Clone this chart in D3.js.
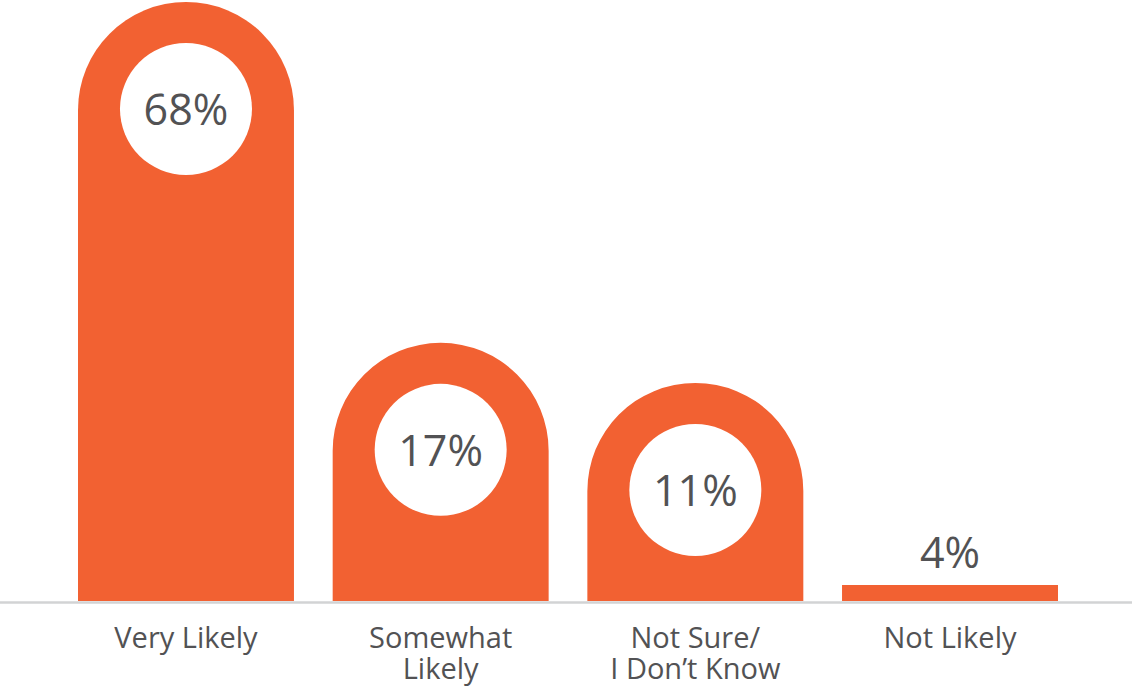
<!DOCTYPE html>
<html>
<head>
<meta charset="utf-8">
<script src="https://cdn.jsdelivr.net/npm/d3@7"></script>
<style>
  html, body { margin: 0; padding: 0; background: #fff; }
  svg { display: block; }
  text { font-family: "Open Sans", "Noto Sans", sans-serif; fill: #525254; }
</style>
</head>
<body>
<svg id="chart" width="1132" height="688"></svg>
<script>
// Survey answers and their shares (percent)
const categories = ["Very Likely", "Somewhat Likely", "Not Sure/ I Don’t Know", "Not Likely"];
const categoryLines = [["Very Likely"], ["Somewhat", "Likely"], ["Not Sure/", "I Don’t Know"], ["Not Likely"]];
const values = [68, 17, 11, 4];
const valueLabels = ["68%", "17%", "11%", "4%"];

// Bars under this share are drawn as a flat strip with the label above it
const pillThreshold = 5;

const W = 1132, H = 688;
const baseline = 601;
const svg = d3.select("#chart");

const x = d3.scaleBand()
  .domain(categories)
  .range([78, 1058])
  .paddingInner(0.152)
  .paddingOuter(0);

// Top edge of the rounded "pill" bars (a full cap is always shown)
const yPill = d3.scaleLinear().domain([0, 68]).range([456.5, 2]);
// Height of the flat strip used for small shares
const hFlat = d3.scaleLinear().domain([0, 68]).range([0, 272]);

const orange = "#f26132";
const r = x.bandwidth() / 2;

// Axis baseline
svg.append("line")
  .attr("x1", 0).attr("x2", W)
  .attr("y1", baseline + 1.5).attr("y2", baseline + 1.5)
  .attr("stroke", "#d2d3d4")
  .attr("stroke-width", 2.5);

const data = categories.map((c, i) => ({
  cat: c, value: values[i], label: valueLabels[i], lines: categoryLines[i]
}));

const g = svg.append("g");

data.forEach(d => {
  const x0 = x(d.cat), w = x.bandwidth(), cx = x0 + w / 2;
  if (d.value >= pillThreshold) {
    const top = yPill(d.value);
    const path = d3.path();
    path.moveTo(x0, baseline);
    path.lineTo(x0, top + r);
    path.arc(cx, top + r, r, Math.PI, 0);
    path.lineTo(x0 + w, baseline);
    path.closePath();
    g.append("path").attr("d", path.toString()).attr("fill", orange);

    const cy = top + r - 1;
    g.append("circle")
      .attr("cx", cx).attr("cy", cy).attr("r", 66)
      .attr("fill", "#fff");
    g.append("text")
      .attr("x", cx).attr("y", cy)
      .attr("text-anchor", "middle")
      .attr("dominant-baseline", "central")
      .style("font-size", "43px")
      .text(d.label);
  } else {
    const h = hFlat(d.value);
    g.append("rect")
      .attr("x", x0).attr("y", baseline - h)
      .attr("width", w).attr("height", h)
      .attr("fill", orange);
    g.append("text")
      .attr("x", cx).attr("y", baseline - h - 17)
      .attr("text-anchor", "middle")
      .style("font-size", "43px")
      .text(d.label);
  }

  // Category name under the bar, one text per line
  d.lines.forEach((ln, j) => {
    g.append("text")
      .attr("x", cx)
      .attr("y", 648 + j * 31)
      .attr("text-anchor", "middle")
      .style("font-size", "29px")
      .text(ln);
  });
});
</script>
</body>
</html>
